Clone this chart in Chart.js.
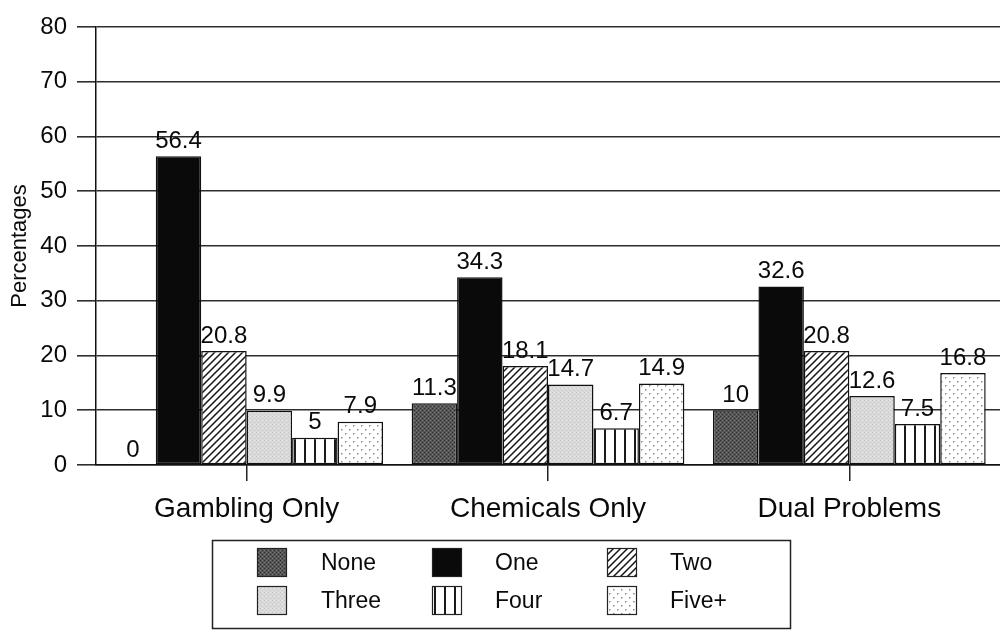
<!DOCTYPE html>
<html>
<head>
<meta charset="utf-8">
<title>Percentages by group</title>
<script src="https://cdn.jsdelivr.net/npm/chart.js@4.4.1/dist/chart.umd.min.js"></script>
<style>
  html, body { margin: 0; padding: 0; background: #ffffff; overflow: hidden; }
  #wrap { width: 1000px; height: 630px; }
</style>
</head>
<body>
<div id="wrap"><canvas id="chart" width="1000" height="630"></canvas></div>
<script>
// Categories and series values
const categories = ['Gambling Only', 'Chemicals Only', 'Dual Problems'];
const seriesNames = ['None', 'One', 'Two', 'Three', 'Four', 'Five+'];
const noneValues  = [0, 11.3, 10];
const oneValues   = [56.4, 34.3, 32.6];
const twoValues   = [20.8, 18.1, 20.8];
const threeValues = [9.9, 14.7, 12.6];
const fourValues  = [5, 6.7, 7.5];
const fiveValues  = [7.9, 14.9, 16.8];
const yTicks = [0, 10, 20, 30, 40, 50, 60, 70, 80];

const FONT = '"Liberation Sans", Arial, Helvetica, sans-serif';

// Fill patterns for each series
function makePattern(w, h, draw) {
  const c = document.createElement('canvas');
  c.width = w; c.height = h;
  const g = c.getContext('2d');
  draw(g, w, h);
  return g.createPattern(c, 'repeat');
}
const fillNone = makePattern(4, 4, (g, w, h) => {
  g.fillStyle = '#575757'; g.fillRect(0, 0, w, h);
  g.fillStyle = '#2a2a2a'; g.fillRect(0, 0, 1, 1); g.fillRect(2, 2, 1, 1);
  g.fillStyle = '#777777'; g.fillRect(2, 0, 1, 1); g.fillRect(0, 2, 1, 1);
});
const fillOne = '#0a0a0a';
const fillTwo = makePattern(7, 7, (g, w, h) => {
  g.fillStyle = '#ffffff'; g.fillRect(0, 0, w, h);
  g.strokeStyle = '#151515'; g.lineWidth = 1.5;
  g.beginPath();
  g.moveTo(0, h); g.lineTo(w, 0);
  g.moveTo(-1, 1); g.lineTo(1, -1);
  g.moveTo(w - 1, h + 1); g.lineTo(w + 1, h - 1);
  g.stroke();
});
const fillThree = makePattern(4, 4, (g, w, h) => {
  g.fillStyle = '#dadada'; g.fillRect(0, 0, w, h);
  g.fillStyle = '#c6c6c6'; g.fillRect(0, 0, 1, 1); g.fillRect(2, 2, 1, 1);
  g.fillStyle = '#e8e8e8'; g.fillRect(2, 0, 1, 1);
});
const fillFour = makePattern(10, 10, (g, w, h) => {
  g.fillStyle = '#ffffff'; g.fillRect(0, 0, w, h);
  g.fillStyle = '#1a1a1a'; g.fillRect(4, 0, 2, h);
});
const fillFive = makePattern(8, 8, (g, w, h) => {
  g.fillStyle = '#ffffff'; g.fillRect(0, 0, w, h);
  g.fillStyle = '#8a8a8a'; g.fillRect(1, 1, 1.5, 1.5); g.fillRect(5, 5, 1.5, 1.5);
});

const seriesValues = [noneValues, oneValues, twoValues, threeValues, fourValues, fiveValues];
const seriesFills = [fillNone, fillOne, fillTwo, fillThree, fillFour, fillFive];

const datasets = seriesNames.map((name, i) => ({
  label: name,
  data: seriesValues[i],
  backgroundColor: seriesFills[i],
  borderColor: '#111111',
  borderWidth: 1.5,
  borderSkipped: false,
  barPercentage: 1.0,
  categoryPercentage: 0.905
}));

// Numbers printed above every bar
const valueLabels = {
  id: 'valueLabels',
  afterDatasetsDraw(chart) {
    const ctx = chart.ctx;
    ctx.save();
    ctx.font = '24px ' + FONT;
    ctx.fillStyle = '#0a0a0a';
    ctx.textAlign = 'center';
    ctx.textBaseline = 'bottom';
    chart.data.datasets.forEach((ds, i) => {
      const meta = chart.getDatasetMeta(i);
      meta.data.forEach((bar, j) => {
        ctx.fillText(String(ds.data[j]), bar.x, bar.y - 3);
      });
    });
    ctx.restore();
  }
};

// Boxed legend, three columns by two rows
const boxLegend = {
  id: 'boxLegend',
  afterDraw(chart) {
    const ctx = chart.ctx;
    ctx.save();
    ctx.strokeStyle = '#222222';
    ctx.lineWidth = 1.5;
    ctx.strokeRect(212.5, 540.5, 578, 88);
    const colSwatch = [257, 432, 607];
    const colText = [321, 495, 670];
    const rowTop = [548, 586];
    ctx.font = '23px ' + FONT;
    ctx.textBaseline = 'middle';
    ctx.textAlign = 'left';
    chart.data.datasets.forEach((ds, i) => {
      const col = i % 3, row = Math.floor(i / 3);
      const x = colSwatch[col], y = rowTop[row];
      ctx.fillStyle = ds.backgroundColor;
      ctx.fillRect(x, y, 30, 29);
      ctx.strokeStyle = '#222222';
      ctx.lineWidth = 1.2;
      ctx.strokeRect(x + 0.5, y + 0.5, 29, 28);
      ctx.fillStyle = '#0a0a0a';
      ctx.fillText(ds.label, colText[col], y + 16);
    });
    ctx.restore();
  }
};

new Chart(document.getElementById('chart'), {
  type: 'bar',
  data: { labels: categories, datasets },
  plugins: [valueLabels, boxLegend],
  options: {
    responsive: false,
    animation: false,
    devicePixelRatio: 1,
    layout: { padding: { top: 27, left: 0, right: 0, bottom: 0 } },
    plugins: {
      legend: { display: false },
      tooltip: { enabled: false }
    },
    scales: {
      x: {
        offset: true,
        grid: {
          offset: false,
          drawOnChartArea: false,
          drawTicks: true,
          tickLength: 16,
          color: '#222222',
          lineWidth: 1.5
        },
        border: { color: '#111111', width: 1.5 },
        ticks: {
          font: { family: FONT, size: 28 },
          color: '#0a0a0a',
          padding: 11,
          maxRotation: 0
        },
        afterFit(scale) { scale.height = 165; }
      },
      y: {
        min: yTicks[0],
        max: yTicks[yTicks.length - 1],
        afterBuildTicks(scale) { scale.ticks = yTicks.map(v => ({ value: v })); },
        grid: {
          color: '#2e2e2e',
          lineWidth: 1.6,
          tickLength: 19
        },
        border: { color: '#111111', width: 1.5 },
        ticks: {
          font: { family: FONT, size: 24 },
          color: '#0a0a0a',
          padding: 10
        },
        title: {
          display: true,
          text: 'Percentages',
          font: { family: FONT, size: 22 },
          color: '#0a0a0a',
          padding: { top: 7, bottom: 0 }
        },
        afterFit(scale) { scale.width = 96; }
      }
    }
  }
});
</script>
</body>
</html>
